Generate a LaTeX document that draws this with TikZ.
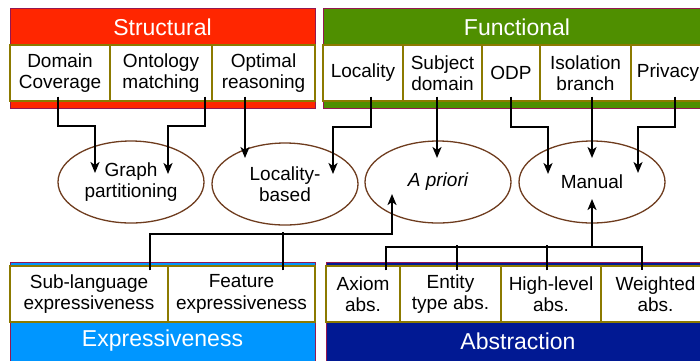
\documentclass[tikz,border=0pt]{standalone}
\usepackage{fontspec}
\setmainfont{Liberation Sans}
\usetikzlibrary{calc,arrows.meta,shapes.geometric}

\definecolor{structred}{RGB}{255,38,0}
\definecolor{funcgreen}{RGB}{79,143,0}
\definecolor{exprblue}{RGB}{0,150,255}
\definecolor{abstrblue}{RGB}{1,25,147}
\definecolor{framemaroon}{RGB}{148,23,81}
\definecolor{cellolive}{RGB}{140,122,0}
\definecolor{ovalbrown}{RGB}{110,60,30}

\begin{document}
\begin{tikzpicture}[x=1pt,y=-1pt,
  frame/.style={draw=framemaroon,line width=1pt},
  cell/.style={draw=cellolive,line width=1.3pt,fill=white,inner sep=0pt,
    minimum height=56pt,align=center,font=\fontsize{19}{21.5}\selectfont},
  title/.style={text=white,inner sep=0pt,font=\fontsize{23}{26}\selectfont},
  oval/.style={ellipse,draw=ovalbrown,line width=1.3pt,minimum width=146pt,
    minimum height=82pt,inner sep=0pt,align=center,font=\fontsize{19}{21.5}\selectfont},
  lnk/.style={draw=black,line width=2pt},
  arr/.style={lnk,-{Stealth[length=11pt,width=9pt,inset=3pt]}}]

\useasboundingbox (0,0) rectangle (700,360);
\clip (0,0) rectangle (700,360);

% Structural group
\filldraw[fill=structred,frame] (10,8) rectangle (315,108);
\node[title] (st) at (162.5,27) {Structural};
\node[cell,minimum width=100pt] (dc) at (60,73) {Domain\\Coverage};
\node[cell,minimum width=102pt] (om) at (161,73) {Ontology\\matching};
\node[cell,minimum width=103pt] (or) at (263.5,73) {Optimal\\reasoning};

% Functional group
\filldraw[fill=funcgreen,frame] (323,8) rectangle (711,108);
\node[title] (fn) at (517,27) {Functional};
\node[cell,minimum width=80pt] (loc) at (363,73) {Locality};
\node[cell,minimum width=79pt] (sd) at (442.5,73) {Subject\\domain};
\node[cell,minimum width=58pt] (odp) at (511,73) {ODP};
\node[cell,minimum width=91pt] (ib) at (585.5,73) {Isolation\\branch};
\node[cell,minimum width=74pt] (pr) at (668,73) {Privacy};

% Expressiveness group
\filldraw[fill=exprblue,frame] (10,262) rectangle (315,370);
\node[title] (ex) at (162.5,341) {Expressiveness};
\node[cell,minimum width=158pt] (sl) at (89,294) {Sub-language\\expressiveness};
\node[cell,minimum width=147pt] (fe) at (241.5,294) {Feature\\expressiveness};

% Abstraction group
\filldraw[fill=abstrblue,frame] (326,262) rectangle (710,370);
\node[title] (ab) at (518,341) {Abstraction};
\node[cell,minimum width=74pt] (ax) at (363,294) {Axiom\\abs.};
\node[cell,minimum width=101pt] (et) at (450.5,294) {Entity\\type abs.};
\node[cell,minimum width=100pt] (hl) at (551,294) {High-level\\abs.};
\node[cell,minimum width=109pt] (wa) at (655.5,294) {Weighted\\abs.};

% Modularisation techniques
\node[oval] (gp) at (131,182) {Graph\\partitioning};
\node[oval] (lb) at (285,184) {Locality-\\based};
\node[oval] (ap) at (438,182) {\itshape A priori};
\node[oval] (mn) at (592,182) {Manual};

% Top connectors
\draw[arr] ([xshift=-2pt,yshift=5pt]dc.south) -- ++(0,29) -| ($(gp)+(-36,-9)$);
\draw[arr] ([xshift=44pt,yshift=5pt]om.south) -- ++(0,29) -| ($(gp)+(37,-8)$);
\draw[arr] ([xshift=-18.5pt,yshift=5pt]or.south) -- ($(lb)+(-40,-26)$);
\draw[arr] ([xshift=8pt,yshift=5pt]loc.south) -- ++(0,30) -| ($(lb)+(48,-10)$);
\draw[arr] ([xshift=-5.5pt,yshift=5pt]sd.south) -- ($(ap)+(-1,-24)$);
\draw[arr] ([yshift=5pt]odp.south) -- ++(0,30) -| ($(mn)+(-44,-8)$);
\draw[arr] ([xshift=6.5pt,yshift=5pt]ib.south) -- ($(mn)+(0,-24)$);
\draw[arr] ([xshift=7pt,yshift=5pt]pr.south) -- ++(0,30) -| ($(mn)+(46,-9)$);

% Bottom connectors
\coordinate (ja) at ($(ap)+(-46,52)$);
\draw[arr] ([xshift=61pt,yshift=-5pt]sl.north) |- (ja) -- ($(ap)+(-46,12)$);
\draw[lnk] ([xshift=41.5pt,yshift=-5pt]fe.north) -- ++(0,-38);

\coordinate (jm) at ($(mn)+(0,65)$);
\draw[lnk] ([xshift=23pt,yshift=-5pt]ax.north) |- (jm) -| ([xshift=-13.5pt,yshift=-5pt]wa.north);
\draw[lnk] ([xshift=6.5pt,yshift=-5pt]et.north) -- ++(0,-25);
\draw[lnk] ([xshift=-4pt,yshift=-5pt]hl.north) -- ++(0,-25);
\draw[arr] (jm) -- ($(mn)+(0,17)$);

\end{tikzpicture}
\end{document}
